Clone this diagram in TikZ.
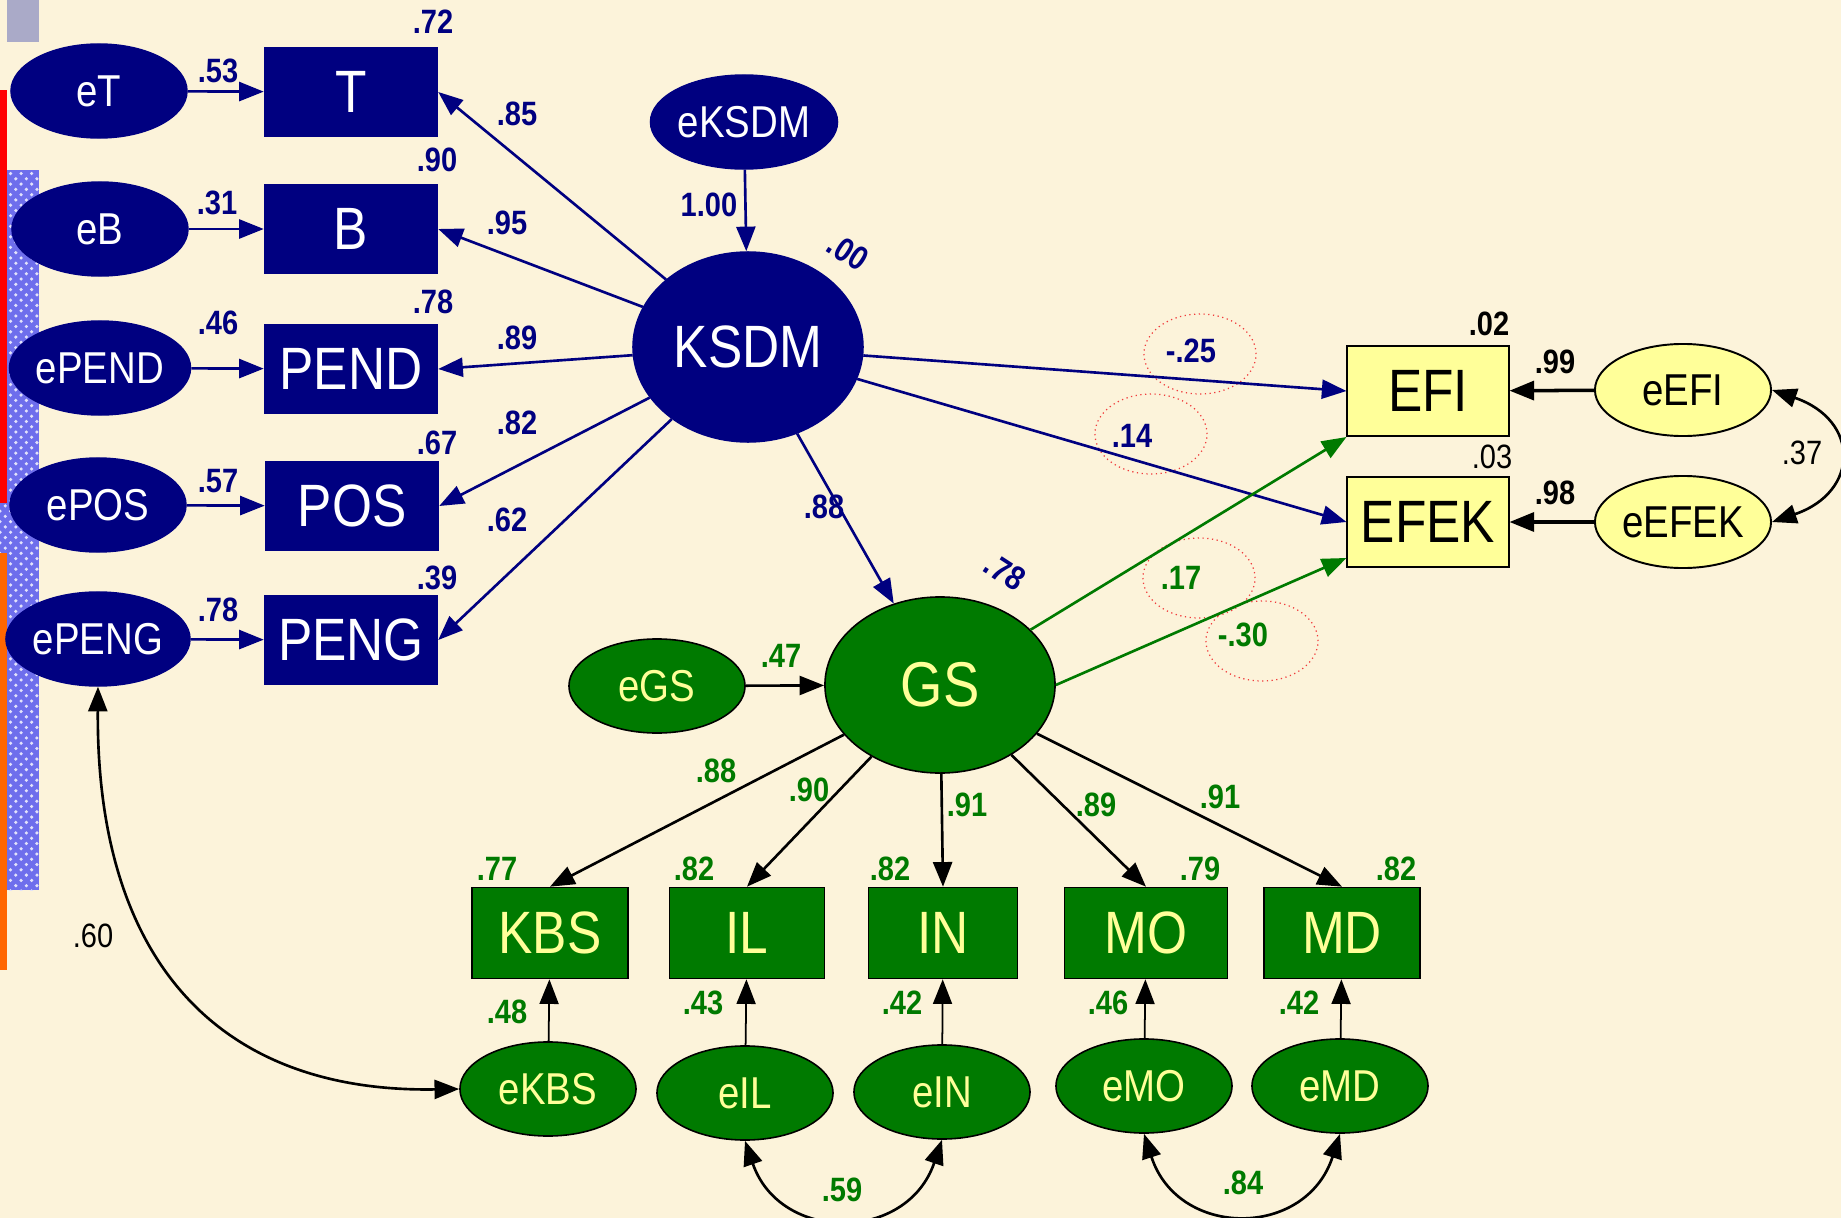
\documentclass[tikz,border=0pt]{standalone}
\usepackage{fontspec}
\setmainfont{Liberation Sans}
\newfontfamily\narrowsf[FakeStretch=0.86]{Liberation Sans}
\usetikzlibrary{arrows.meta,shapes.geometric,patterns}
\definecolor{navyblue}{RGB}{0,0,128}
\definecolor{semgreen}{RGB}{0,122,0}
\definecolor{paleyellow}{RGB}{255,255,153}
\definecolor{paper}{RGB}{252,243,218}
\definecolor{checkblue}{RGB}{110,110,236}
\definecolor{barred}{RGB}{255,0,0}
\definecolor{barorange}{RGB}{255,102,0}
\definecolor{slate}{RGB}{170,170,200}
\definecolor{ringred}{RGB}{240,60,60}
\begin{document}
\begin{tikzpicture}[x=0.01cm,y=-0.01cm,
  >={Triangle[length=7pt,width=5.4pt]},
  bigtext/.style={font=\narrowsf\fontsize{17}{17}\selectfont},
  smalltext/.style={font=\narrowsf\fontsize{12.7}{13}\selectfont},
  navyrect/.style={rectangle, fill=navyblue, draw=navyblue, text=white, bigtext,
    minimum width=1.73cm, minimum height=0.89cm, inner sep=0pt},
  navyerr/.style={ellipse, fill=navyblue, draw=navyblue, text=white, smalltext,
    minimum width=1.76cm, minimum height=0.94cm, inner sep=0pt},
  navylatent/.style={ellipse, fill=navyblue, draw=navyblue, text=white, bigtext,
    minimum width=2.30cm, minimum height=1.90cm, inner sep=0pt},
  greenrect/.style={rectangle, fill=semgreen, draw=black, line width=0.45pt, text=paleyellow, bigtext,
    minimum height=0.91cm, inner sep=0pt},
  greenerr/.style={ellipse, fill=semgreen, draw=black, line width=0.45pt, text=paleyellow, smalltext,
    minimum width=1.76cm, minimum height=0.94cm, inner sep=0pt},
  greenlatent/.style={ellipse, fill=semgreen, draw=black, line width=0.45pt, text=paleyellow,
    font=\narrowsf\fontsize{18}{18}\selectfont,
    minimum width=2.30cm, minimum height=1.76cm, inner sep=0pt},
  yellowrect/.style={rectangle, fill=paleyellow, draw=black, line width=0.55pt, text=black, bigtext,
    minimum width=1.61cm, minimum height=0.90cm, inner sep=0pt},
  yellowerr/.style={ellipse, fill=paleyellow, draw=black, line width=0.55pt, text=black, smalltext,
    minimum width=1.76cm, minimum height=0.92cm, inner sep=0pt},
  lab/.style={font=\narrowsf\bfseries\fontsize{9.6}{9.6}\selectfont, inner sep=0pt},
  labreg/.style={font=\narrowsf\fontsize{9.6}{9.6}\selectfont, inner sep=0pt, text=black},
  navylab/.style={lab, text=navyblue},
  greenlab/.style={lab, text=semgreen},
  blacklab/.style={lab, text=black},
  navyarrow/.style={->, draw=navyblue, line width=0.75pt},
  greenarrow/.style={->, draw=semgreen, line width=0.75pt},
  blackarrow/.style={->, draw=black, line width=0.75pt},
  thinarrow/.style={->, draw=black, line width=0.5pt},
  heavyarrow/.style={->, draw=black, line width=1pt},
  covarrow/.style={<->, draw=black, line width=0.75pt},
  ring/.style={ellipse, draw=ringred, densely dotted, line width=0.35pt,
    minimum width=1.12cm, minimum height=0.80cm, inner sep=0pt}
]
\useasboundingbox (0,0) rectangle (1841,1218);
% paper background and slide decorations
\fill[paper] (0,0) rectangle (1841,1218);
\fill[slate] (7,0) rectangle (39,42);
\fill[checkblue] (7,170) rectangle (39,890);
\fill[checkblue] (0,503) rectangle (7,553);
\fill[pattern=crosshatch dots, pattern color=white!80!checkblue] (7,170) rectangle (39,890);
\fill[pattern=crosshatch dots, pattern color=white!80!checkblue] (0,503) rectangle (7,553);
\fill[barred] (0,90) rectangle (7,503);
\fill[barorange] (0,553) rectangle (7,970);

% KSDM measurement part
\node[navyerr] (eT) at (99,91) {eT};
\node[navyerr] (eB) at (100,229) {eB};
\node[navyerr] (ePEND) at (100,368) {ePEND};
\node[navyerr] (ePOS) at (98,505) {ePOS};
\node[navyerr] (ePENG) at (98,639) {ePENG};
\node[navyrect] (T) at (351,92) {T};
\node[navyrect] (B) at (351,229) {B};
\node[navyrect] (PEND) at (351,369) {PEND};
\node[navyrect] (POS) at (352,506) {POS};
\node[navyrect] (PENG) at (351,640) {PENG};
\node[navyerr] (eKSDM) at (744,122) {eKSDM};
\node[navylatent] (KSDM) at (748,347) {KSDM};

% outcomes
\node[yellowrect] (EFI) at (1428,391) {EFI};
\node[yellowrect] (EFEK) at (1428,522) {EFEK};
\node[yellowerr] (eEFI) at (1683,390) {eEFI};
\node[yellowerr] (eEFEK) at (1683,522) {eEFEK};

% GS measurement part
\node[greenerr] (eGS) at (657,686) {eGS};
\node[greenlatent] (GS) at (940,685) {GS};
\node[greenrect, minimum width=1.56cm] (KBS) at (550,933) {KBS};
\node[greenrect, minimum width=1.55cm] (IL) at (747,933) {IL};
\node[greenrect, minimum width=1.49cm] (IN) at (943,933) {IN};
\node[greenrect, minimum width=1.63cm] (MO) at (1146,933) {MO};
\node[greenrect, minimum width=1.56cm] (MD) at (1342,933) {MD};
\node[greenerr] (eKBS) at (548,1089) {eKBS};
\node[greenerr] (eIL) at (745,1093) {eIL};
\node[greenerr] (eIN) at (942,1092) {eIN};
\node[greenerr] (eMO) at (1144,1086) {eMO};
\node[greenerr] (eMD) at (1340,1086) {eMD};

% highlight rings around structural paths
\node[ring] (r1) at (1200,354) {};
\node[ring] (r2) at (1151,434) {};
\node[ring] (r3) at (1199,578) {};
\node[ring] (r4) at (1262,641) {};

% paths
\draw[navyarrow] (eT) -- (T);
\draw[navyarrow] (eB) -- (B);
\draw[navyarrow] (ePEND) -- (PEND);
\draw[navyarrow] (ePOS) -- (POS);
\draw[navyarrow] (ePENG) -- (PENG);
\draw[navyarrow] (eKSDM) -- (KSDM);
\draw[navyarrow] (KSDM) -- (T.east);
\draw[navyarrow] (KSDM) -- (B.east);
\draw[navyarrow] (KSDM) -- (PEND.east);
\draw[navyarrow] (KSDM) -- (POS.east);
\draw[navyarrow] (KSDM) -- (PENG.east);
\draw[navyarrow] (KSDM) -- (EFI.west);
\draw[navyarrow] (KSDM) -- (EFEK.west);
\draw[navyarrow] (KSDM) -- (GS);
\draw[greenarrow] (GS) -- (EFI.south west);
\draw[greenarrow] (GS.east) -- ([yshift=0.1cm]EFEK.south west);
\draw[heavyarrow] (eEFI) -- (EFI);
\draw[heavyarrow] (eEFEK) -- (EFEK);
\draw[blackarrow] (eGS) -- (GS);
\draw[blackarrow] (GS) -- (KBS.north);
\draw[blackarrow] (GS) -- (IL.north);
\draw[blackarrow] (GS) -- (IN.north);
\draw[blackarrow] (GS) -- (MO.north);
\draw[blackarrow] (GS) -- (MD.north);
\draw[thinarrow] (eKBS) -- (KBS);
\draw[thinarrow] (eIL) -- (IL);
\draw[thinarrow] (eIN) -- (IN);
\draw[thinarrow] (eMO) -- (MO);
\draw[thinarrow] (eMD) -- (MD);

% covariances
\draw[covarrow] (ePENG.south) .. controls (96,959) and (217,1093) .. (eKBS.west);
\draw[covarrow] (eIL.south) .. controls (780,1243) and (907,1243) .. (eIN.south);
\draw[covarrow] (eMO.south) .. controls (1178,1239) and (1306,1239) .. (eMD.south);
\draw[covarrow] (eEFI.east) .. controls (1860,420) and (1860,492) .. (eEFEK.east);

% estimates, KSDM part
\node[navylab] (s1) at (433,22) {.72};
\node[navylab] (s2) at (437,160) {.90};
\node[navylab] (s3) at (433,302) {.78};
\node[navylab] (s4) at (437,443) {.67};
\node[navylab] (s5) at (437,578) {.39};
\node[navylab] (w1) at (218,71) {.53};
\node[navylab] (w2) at (217,203) {.31};
\node[navylab] (w3) at (218,323) {.46};
\node[navylab] (w4) at (218,481) {.57};
\node[navylab] (w5) at (218,610) {.78};
\node[navylab] (k1) at (517,114) {.85};
\node[navylab] (k2) at (507,223) {.95};
\node[navylab] (k3) at (517,338) {.89};
\node[navylab] (k4) at (517,423) {.82};
\node[navylab] (k5) at (507,520) {.62};
\node[navylab] (kd) at (709,205) {1.00};
\node[navylab, rotate=-33] (kr) at (848,252) {.00};
\node[navylab] (p1) at (1191,351) {-.25};
\node[navylab] (p2) at (1132,436) {.14};
\node[navylab] (p3) at (824,507) {.88};
\node[navylab, rotate=-33] (gr) at (1005,572) {.78};

% estimates, outcome part
\node[blacklab] (o1) at (1489,324) {.02};
\node[labreg] (o2) at (1492,457) {.03};
\node[blacklab] (o3) at (1555,362) {.99};
\node[blacklab] (o4) at (1555,493) {.98};
\node[labreg] (o5) at (1802,453) {.37};
\node[labreg] (o6) at (93,936) {.60};

% estimates, GS part
\node[greenlab] (g1) at (1181,578) {.17};
\node[greenlab] (g2) at (1243,635) {-.30};
\node[greenlab] (g3) at (781,656) {.47};
\node[greenlab] (m1) at (716,771) {.88};
\node[greenlab] (m2) at (809,790) {.90};
\node[greenlab] (m3) at (967,805) {.91};
\node[greenlab] (m4) at (1096,805) {.89};
\node[greenlab] (m5) at (1220,797) {.91};
\node[greenlab] (q1) at (497,869) {.77};
\node[greenlab] (q2) at (694,869) {.82};
\node[greenlab] (q3) at (890,869) {.82};
\node[greenlab] (q4) at (1200,869) {.79};
\node[greenlab] (q5) at (1396,869) {.82};
\node[greenlab] (u1) at (507,1012) {.48};
\node[greenlab] (u2) at (703,1003) {.43};
\node[greenlab] (u3) at (902,1003) {.42};
\node[greenlab] (u4) at (1108,1003) {.46};
\node[greenlab] (u5) at (1299,1003) {.42};
\node[greenlab] (c1) at (842,1190) {.59};
\node[greenlab] (c2) at (1243,1183) {.84};
\end{tikzpicture}
\end{document}
